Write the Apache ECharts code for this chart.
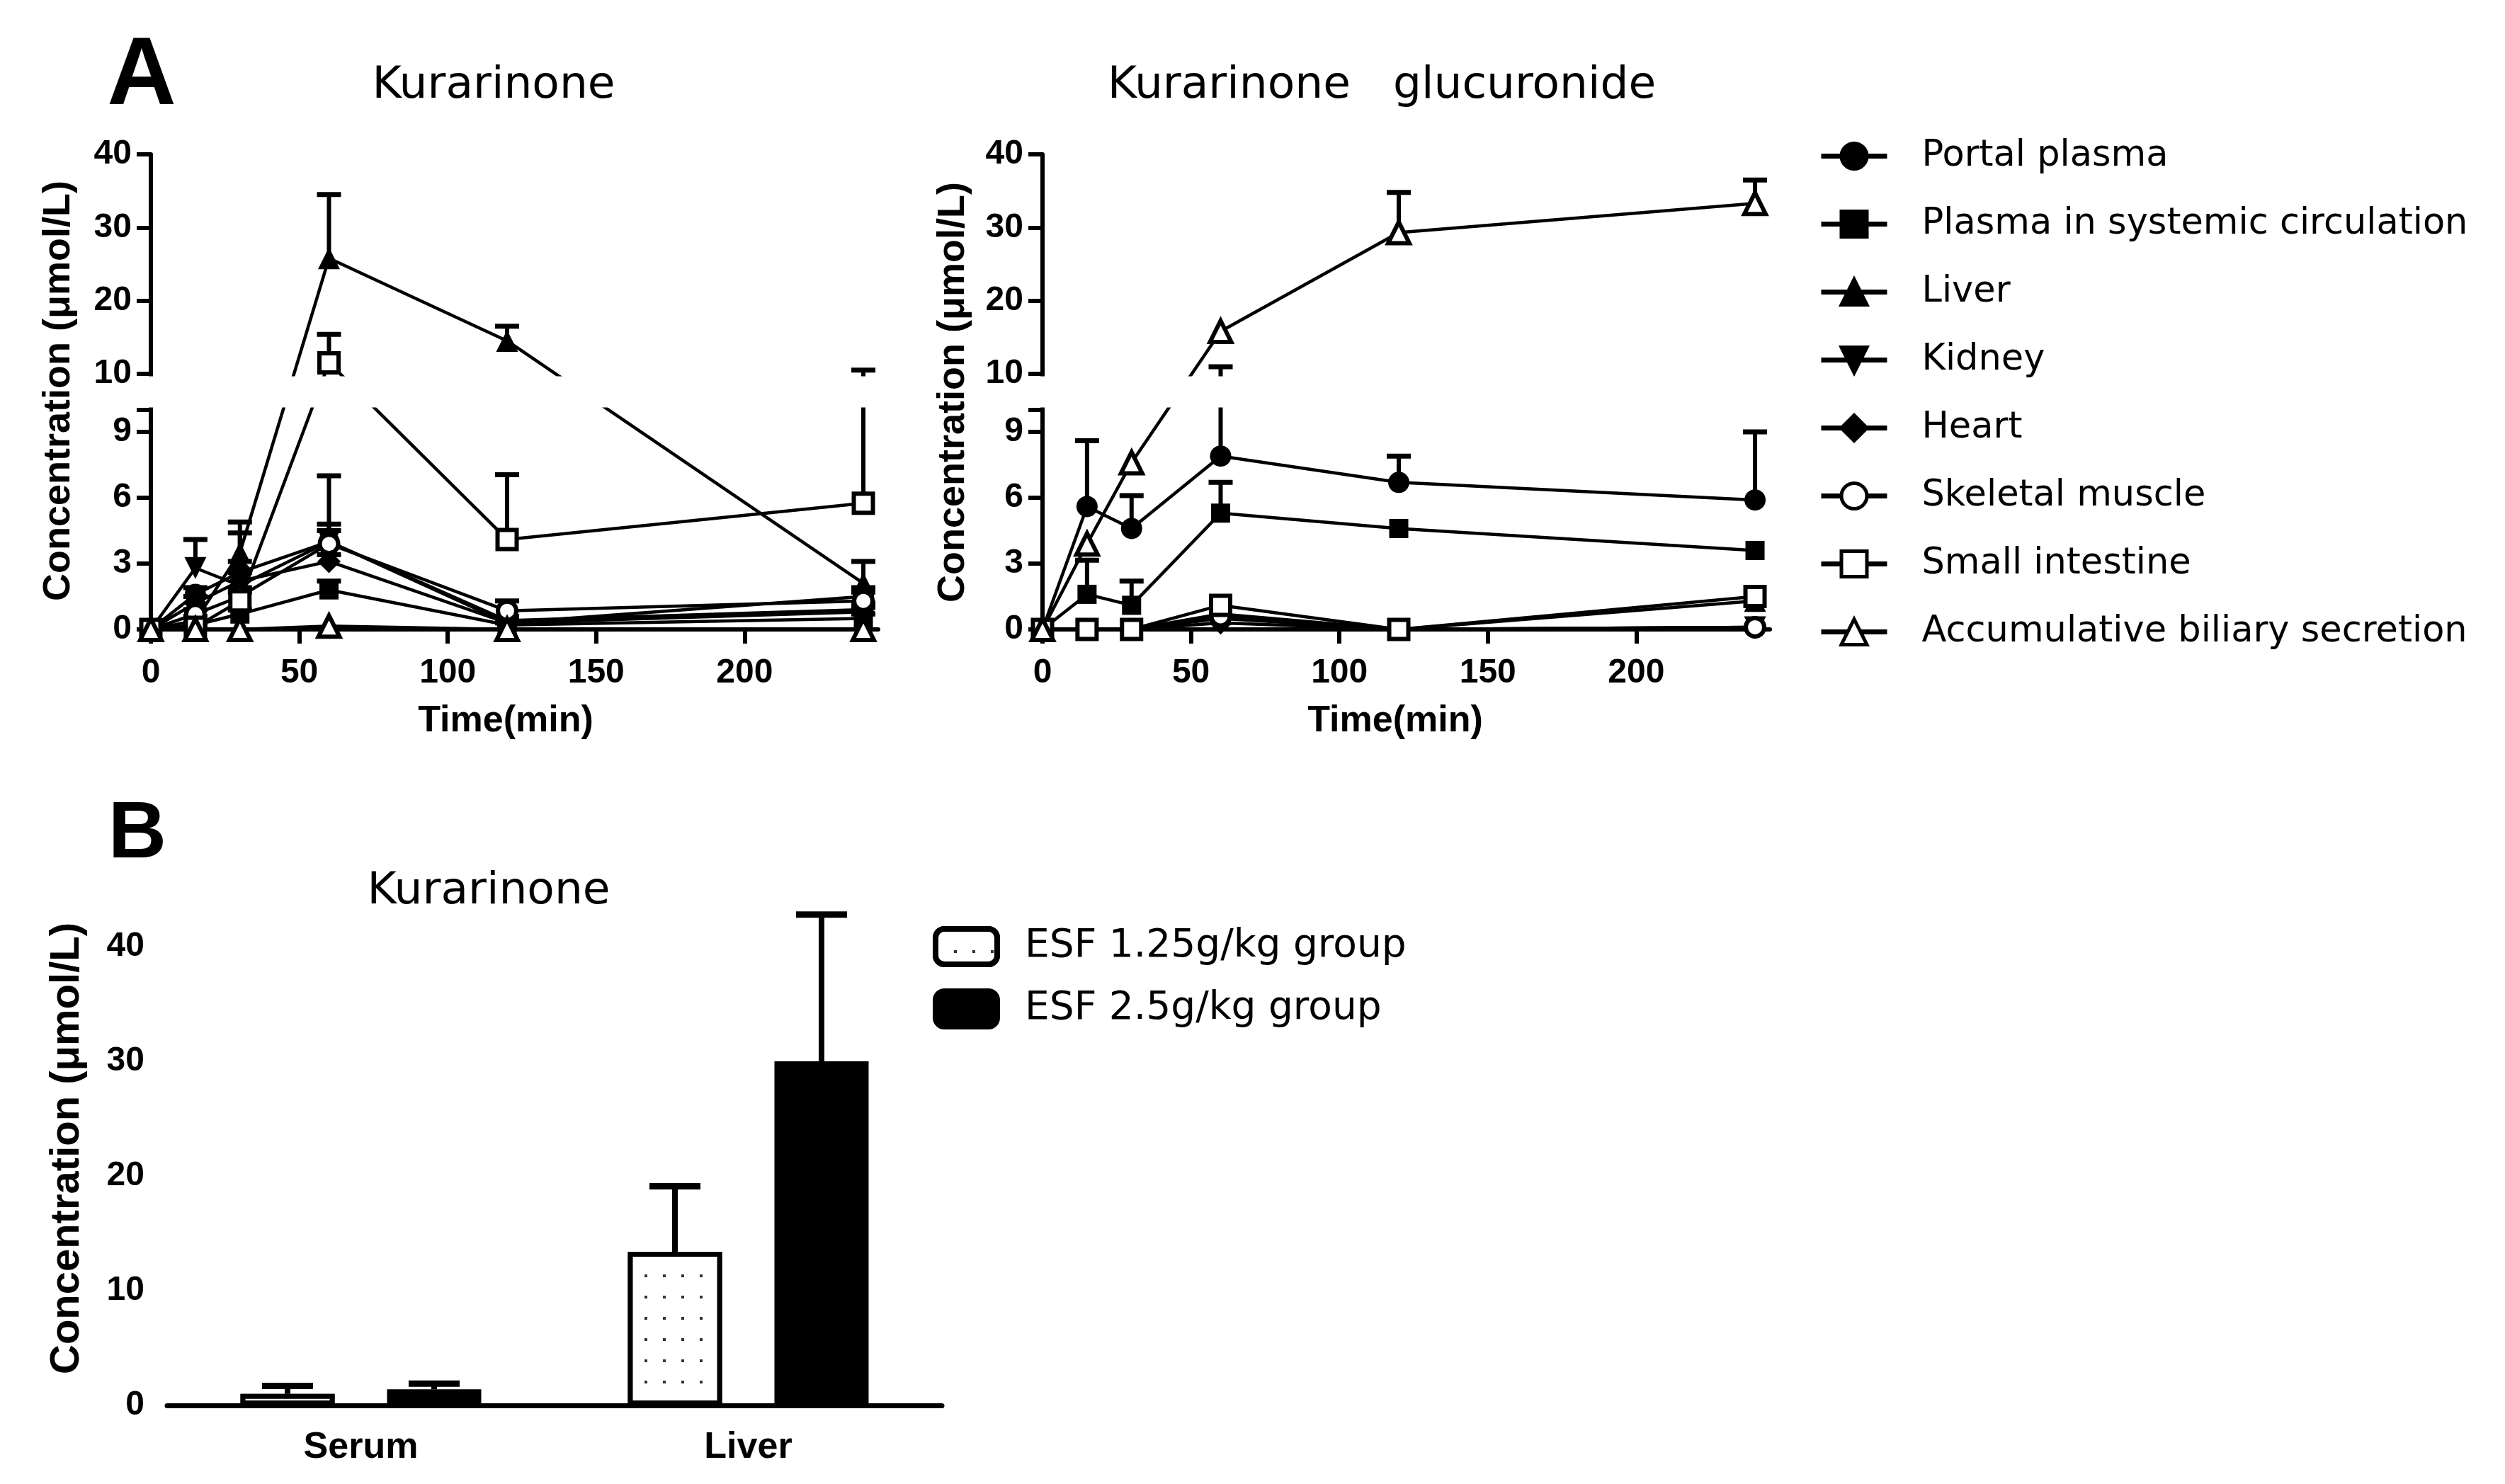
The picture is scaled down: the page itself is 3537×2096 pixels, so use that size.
<!DOCTYPE html>
<html><head><meta charset="utf-8">
<script src="https://cdn.jsdelivr.net/npm/echarts@6.0.0/dist/echarts.min.js"></script>
<style>html,body{margin:0;padding:0;background:#fff}#c{width:3537px;height:2096px}</style>
</head><body><div id="c"></div>
<script>
// ---------------- DATA ----------------
const times = [0, 15, 30, 60, 120, 240];
const seriesNames = ['Portal plasma', 'Plasma in systemic circulation', 'Liver', 'Kidney', 'Heart',
  'Skeletal muscle', 'Small intestine', 'Accumulative biliary secretion'];
const xTicks = [0, 50, 100, 150, 200];
const yLowerTicks = [0, 3, 6, 9];
const yUpperTicks = [10, 20, 30, 40];

// Kurarinone (mean, SD)
const kurPortal      = [0, 1.6, 2.6, 4.0, 0.3, 1.5];
const kurPortalSD    = [0, 0.3, 0.5, 0.8, 0.2, 0.4];
const kurSystemic    = [0, 0.2, 0.7, 1.8, 0.2, 0.5];
const kurSystemicSD  = [0, 0.1, 0.2, 0.4, 0.1, 0.2];
const kurLiver       = [0, 0.4, 3.5, 25.8, 14.5, 2.1];
const kurLiverSD     = [0, 0.2, 1.4, 8.7, 2.0, 1.0];
const kurKidney      = [0, 2.8, 2.0, 4.0, 0.4, 0.9];
const kurKidneySD    = [0, 1.3, 2.4, 0.5, 0.2, 0.3];
const kurHeart       = [0, 1.2, 2.2, 3.1, 0.3, 0.8];
const kurHeartSD     = [0, 0.3, 0.4, 0.3, 0.1, 0.2];
const kurMuscle      = [0, 0.7, 1.5, 3.9, 0.85, 1.3];
const kurMuscleSD    = [0, 0.2, 0.4, 3.1, 0.45, 0.4];
const kurIntestine   = [0, 0.1, 1.3, 11.5, 4.1, 5.75];
const kurIntestineSD = [0, 0.1, 0.4, 3.9, 2.95, 4.75];
const kurBile        = [0, 0, 0, 0.15, 0, 0];
const kurBileSD      = [0, 0, 0, 0, 0, 0];

// Kurarinone glucuronide (mean, SD)
const glcPortal      = [0, 5.6, 4.6, 7.9, 6.7, 5.9];
const glcPortalSD    = [0, 3.0, 1.5, 3.07, 1.2, 3.1];
const glcSystemic    = [0, 1.6, 1.1, 5.3, 4.6, 3.6];
const glcSystemicSD  = [0, 1.55, 1.1, 1.4, 0, 0];
const glcLiver       = [0, 0, 0, 0.7, 0, 1.3];
const glcLiverSD     = [0, 0, 0, 0, 0, 0];
const glcKidney      = [0, 0, 0, 0.5, 0, 0.1];
const glcKidneySD    = [0, 0, 0, 0, 0, 0];
const glcHeart       = [0, 0, 0, 0.3, 0, 0.1];
const glcHeartSD     = [0, 0, 0, 0, 0, 0];
const glcMuscle      = [0, 0, 0, 0.6, 0, 0.1];
const glcMuscleSD    = [0, 0, 0, 0, 0, 0];
const glcIntestine   = [0, 0, 0, 1.1, 0, 1.5];
const glcIntestineSD = [0, 0, 0, 0, 0, 0];
const glcBile        = [0, 3.9, 7.6, 15.8, 29.3, 33.3];
const glcBileSD      = [0, 0, 0, 0, 5.5, 3.2];

// Panel B
const barCategories = ['Serum', 'Liver'];
const barNames = ['ESF 1.25g/kg group', 'ESF 2.5g/kg group'];
const esfLow     = [1.0, 13.4];
const esfLowSD   = [0.7, 5.7];
const esfHigh    = [1.4, 30.0];
const esfHighSD  = [0.5, 12.8];
const barYTicks  = [0, 10, 20, 30, 40];

// ---------------- BROKEN AXIS MAPPING ----------------
const BREAK_AT = 10, GAP = 1.65, UPPER_SCALE = 1 / 3;
function tf(v) { return v <= BREAK_AT ? v : BREAK_AT + GAP + (v - BREAK_AT) * UPPER_SCALE; }
function tfUpper(v) { return BREAK_AT + GAP + (v - BREAK_AT) * UPPER_SCALE; }
function inv(t) { return t < BREAK_AT + GAP / 2 ? t : BREAK_AT + (t - BREAK_AT - GAP) / UPPER_SCALE; }
const T_MAX = tfUpper(40);

// ---------------- STYLE ----------------
const BOLD = "'Liberation Sans', Arial, sans-serif";
const REG = "'DejaVu Sans', sans-serif";
const DOWN_TRI = 'path://M0,0L20,0L10,17.3Z';
const symbolDefs = [
  {symbol: 'circle', size: 30, open: false},
  {symbol: 'rect', size: 27, open: false},
  {symbol: 'triangle', size: 31, open: false},
  {symbol: DOWN_TRI, size: 31, open: false},
  {symbol: 'diamond', size: 33, open: false},
  {symbol: 'circle', size: 26, open: true},
  {symbol: 'rect', size: 27, open: true},
  {symbol: 'triangle', size: 30, open: true}
];

const kurMeans = [kurPortal, kurSystemic, kurLiver, kurKidney, kurHeart, kurMuscle, kurIntestine, kurBile];
const kurSDs = [kurPortalSD, kurSystemicSD, kurLiverSD, kurKidneySD, kurHeartSD, kurMuscleSD, kurIntestineSD, kurBileSD];
const glcMeans = [glcPortal, glcSystemic, glcLiver, glcKidney, glcHeart, glcMuscle, glcIntestine, glcBile];
const glcSDs = [glcPortalSD, glcSystemicSD, glcLiverSD, glcKidneySD, glcHeartSD, glcMuscleSD, glcIntestineSD, glcBileSD];

function errRender(params, api) {
  const x = api.value(0);
  const a = api.coord([x, api.value(1)]);
  const b = api.coord([x, api.value(2)]);
  return {type: 'group', children: [
    {type: 'line', shape: {x1: a[0], y1: a[1], x2: b[0], y2: b[1]}, style: {stroke: '#000', lineWidth: 6}},
    {type: 'line', shape: {x1: b[0] - 17, y1: b[1], x2: b[0] + 17, y2: b[1]}, style: {stroke: '#000', lineWidth: 7}}
  ]};
}

function panelSeries(idx, means, sds) {
  const out = [];
  const err = [];
  means.forEach((m, k) => {
    const d = symbolDefs[k];
    out.push({
      type: 'line', name: seriesNames[k], xAxisIndex: idx, yAxisIndex: idx,
      data: times.map((t, i) => [t, tf(m[i])]),
      symbol: d.symbol, symbolSize: d.size, showAllSymbol: true, clip: false, z: 3,
      lineStyle: {color: '#000', width: 4.5},
      itemStyle: d.open ? {color: '#fff', borderColor: '#000', borderWidth: 6} : {color: '#000', borderColor: '#000', borderWidth: 0},
      emphasis: {disabled: true}
    });
    m.forEach((v, i) => { if (sds[k][i] > 0) err.push([times[i], tf(v), tf(v + sds[k][i])]); });
  });
  out.push({type: 'custom', xAxisIndex: idx, yAxisIndex: idx, data: err, renderItem: errRender,
    z: 2, silent: true, clip: false, encode: {x: 0, y: [1, 2]}});
  return out;
}

const axisLineStyle = {lineStyle: {color: '#000', width: 6}};
const tickStyle = {length: 20, lineStyle: {color: '#000', width: 6}};
const labelBase = {color: '#000', fontFamily: BOLD, fontWeight: 'bold', fontSize: 48};

function timeAxis(idx) {
  return {
    type: 'value', gridIndex: idx, min: 0, max: 245, interval: 50,
    axisLine: Object.assign({onZero: false}, axisLineStyle),
    axisTick: Object.assign({customValues: xTicks}, tickStyle),
    axisLabel: Object.assign({customValues: xTicks, margin: 38,
      formatter: v => (xTicks.indexOf(v) >= 0 ? String(v) : '')}, labelBase),
    splitLine: {show: false}
  };
}
function brokenYAxis(idx) {
  return {
    type: 'value', gridIndex: idx, min: 0, max: T_MAX,
    axisLine: axisLineStyle,
    axisTick: Object.assign({customValues: yLowerTicks.concat([BREAK_AT], yUpperTicks.map(tfUpper))}, tickStyle),
    axisLabel: Object.assign({customValues: yLowerTicks.concat(yUpperTicks.map(tfUpper)), margin: 27,
      formatter: v => String(Math.round(inv(v)))}, labelBase),
    splitLine: {show: false}
  };
}

const BAR_W = 133, BAR_GAP_RATIO = 0.556;
const BAR_OFFSET = (BAR_W + BAR_W * BAR_GAP_RATIO) / 2;
const barErr = [];
esfLow.forEach((v, i) => barErr.push([i, v, v + esfLowSD[i], -1]));
esfHigh.forEach((v, i) => barErr.push([i, v, v + esfHighSD[i], 1]));

const chart = echarts.init(document.getElementById('c'), null, {renderer: 'canvas'});

const option = {
  backgroundColor: '#fff',
  animation: false,
  grid: [
    {left: 213, top: 218, width: 1027, height: 671, outerBoundsMode: 'none', containLabel: false},
    {left: 1472, top: 218, width: 1027, height: 671, outerBoundsMode: 'none', containLabel: false},
    {left: 236, top: 1256, width: 1094, height: 729, outerBoundsMode: 'none', containLabel: false}
  ],
  xAxis: [timeAxis(0), timeAxis(1), {
    type: 'category', gridIndex: 2, data: barCategories,
    axisLine: {lineStyle: {color: '#000', width: 7}},
    axisTick: {alignWithLabel: true, length: 20, lineStyle: {color: '#000', width: 6}},
    axisLabel: Object.assign({}, labelBase, {fontSize: 52, margin: 34})
  }],
  yAxis: [brokenYAxis(0), brokenYAxis(1), {
    type: 'value', gridIndex: 2, min: 0, max: 45, interval: 10,
    axisLine: {lineStyle: {color: '#000', width: 7}},
    axisTick: {customValues: barYTicks, length: 22, lineStyle: {color: '#000', width: 6}},
    axisLabel: Object.assign({customValues: barYTicks, margin: 32,
      formatter: v => (barYTicks.indexOf(v) >= 0 ? String(v) : '')}, labelBase, {fontSize: 48}),
    splitLine: {show: false}
  }],
  legend: [{
    data: seriesNames, orient: 'vertical', left: 2563, top: 190,
    itemWidth: 93, itemHeight: 45, itemGap: 45,
    lineStyle: {width: 7},
    itemStyle: {borderColor: '#000', borderWidth: 5},
    textStyle: {fontFamily: REG, fontSize: 51, color: '#000', padding: [0, 0, 0, 44], lineHeight: 45},
    selectedMode: false
  }, {
    data: barNames, orient: 'vertical', left: 1312, top: 1303,
    itemWidth: 87, itemHeight: 50, itemGap: 30,
    itemStyle: {borderColor: '#000', borderWidth: 8},
    textStyle: {fontFamily: REG, fontSize: 55, color: '#000', padding: [0, 0, 0, 34], lineHeight: 50},
    selectedMode: false
  }],
  series: [].concat(
    panelSeries(0, kurMeans, kurSDs),
    panelSeries(1, glcMeans, glcSDs),
    [{
      type: 'bar', name: barNames[0], xAxisIndex: 2, yAxisIndex: 2, data: esfLow,
      barWidth: BAR_W, barGap: (BAR_GAP_RATIO * 100) + '%', z: 2,
      itemStyle: {color: '#fff', borderColor: '#000', borderWidth: 7,
        decal: {symbol: 'rect', symbolSize: 1, color: '#333', backgroundColor: '#fff',
          dashArrayX: [4, 22], dashArrayY: [4, 26]}},
      emphasis: {disabled: true}
    }, {
      type: 'bar', name: barNames[1], xAxisIndex: 2, yAxisIndex: 2, data: esfHigh,
      barWidth: BAR_W, z: 2,
      itemStyle: {color: '#000', borderColor: '#000', borderWidth: 7},
      emphasis: {disabled: true}
    }, {
      type: 'custom', xAxisIndex: 2, yAxisIndex: 2, data: barErr, z: 3, silent: true,
      encode: {x: 0, y: [1, 2]},
      renderItem: (params, api) => {
        const c = api.value(0), side = api.value(3);
        const a = api.coord([c, api.value(1)]);
        const b = api.coord([c, api.value(2)]);
        const x = a[0] + side * BAR_OFFSET;
        return {type: 'group', children: [
          {type: 'line', shape: {x1: x, y1: a[1], x2: x, y2: b[1]}, style: {stroke: '#000', lineWidth: 8}},
          {type: 'line', shape: {x1: x - 36, y1: b[1], x2: x + 36, y2: b[1]}, style: {stroke: '#000', lineWidth: 9}}
        ]};
      }
    }]
  )
};
chart.setOption(option);

// gap masks for the broken axes + texts
function gapRect(gridIdx, gridLeft, gridWidth) {
  const lo = chart.convertToPixel({gridIndex: gridIdx}, [0, BREAK_AT]);
  const hi = chart.convertToPixel({gridIndex: gridIdx}, [0, BREAK_AT + GAP]);
  return {type: 'rect', z: 100, silent: true,
    shape: {x: gridLeft - 9, y: hi[1] + 3.5, width: gridWidth + 40, height: lo[1] - hi[1] - 7},
    style: {fill: '#fff'}};
}
function txt(text, x, y, size, font, weight, rot) {
  return {type: 'text', x: x, y: y, rotation: rot || 0, z: 101, silent: true,
    style: {text: text, fontSize: size, fontFamily: font, fontWeight: weight, fill: '#000',
      align: 'center', verticalAlign: 'middle', textAlign: 'center', textVerticalAlign: 'middle'}};
}
chart.setOption({
  graphic: [
    gapRect(0, 213, 1027),
    gapRect(1, 1472, 1027),
    txt('A', 200, 110, 135, BOLD, 'bold'),
    txt('B', 194, 1180, 114, BOLD, 'bold'),
    txt('Kurarinone', 697, 122, 63, REG, 'normal'),
    txt('Kurarinone   glucuronide', 1951, 122, 63, REG, 'normal'),
    txt('Kurarinone', 690, 1260, 63, REG, 'normal'),
    txt('Concentration (\u03bcmol/L)', 83, 552, 54, BOLD, 'bold', Math.PI / 2),
    txt('Concentration (\u03bcmol/L)', 1346, 554, 54, BOLD, 'bold', Math.PI / 2),
    txt('Concentration (\u03bcmol/L)', 95, 1622, 58, BOLD, 'bold', Math.PI / 2),
    txt('Time(min)', 714, 1019, 52, BOLD, 'bold'),
    txt('Time(min)', 1970, 1019, 52, BOLD, 'bold')
  ]
});
</script></body></html>
